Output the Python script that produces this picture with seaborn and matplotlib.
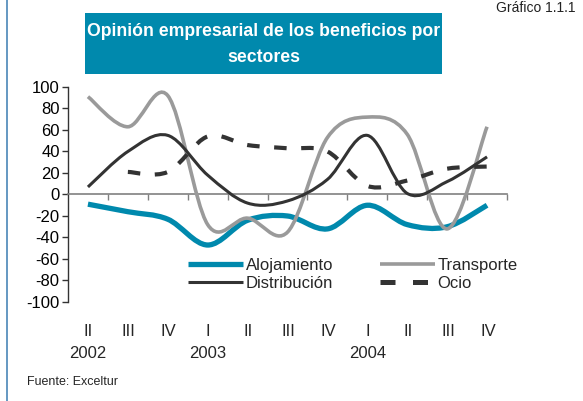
import numpy as np
import matplotlib
matplotlib.use("Agg")
import matplotlib.pyplot as plt
from matplotlib.path import Path
from matplotlib.patches import PathPatch, Rectangle
from matplotlib.lines import Line2D
import seaborn as sns

# quarters II-2002 .. IV-2004
quarters = ['II', 'III', 'IV', 'I', 'II', 'III', 'IV', 'I', 'II', 'III', 'IV']
years = {0: '2002', 3: '2003', 7: '2004'}

alojamiento = [-9, -16, -23, -47, -24, -20, -32, -10, -28, -30, -10]
transporte = [91, 63, 92, -28, -22, -35, 53, 72, 56, -32, 63]
distribucion = [7, 40, 55, 18, -8, -6, 14, 55, 1, 12, 35]
ocio = [np.nan, 21, 21, 54, 46, 43, 40, 8, 13, 24, 26]


def smooth_path(xs, ys):
    # excel style smoothed line: bezier through each point
    pts = [(x, y) for x, y in zip(xs, ys) if not np.isnan(y)]
    n = len(pts)
    verts = [pts[0]]
    codes = [Path.MOVETO]
    for i in range(n - 1):
        p0 = pts[i - 1] if i > 0 else pts[i]
        p1, p2 = pts[i], pts[i + 1]
        p3 = pts[i + 2] if i + 2 < n else pts[i + 1]
        c1 = (p1[0] + (p2[0] - p0[0]) / 6, p1[1] + (p2[1] - p0[1]) / 6)
        c2 = (p2[0] - (p3[0] - p1[0]) / 6, p2[1] - (p3[1] - p1[1]) / 6)
        verts += [c1, c2, p2]
        codes += [Path.CURVE4] * 3
    return Path(verts, codes)


sns.set_theme(style="white")
plt.rcParams['font.family'] = ['Liberation Sans', 'DejaVu Sans']
plt.rcParams['axes.unicode_minus'] = False

fig = plt.figure(figsize=(5.83, 4.01), dpi=100)
ax = fig.add_axes([68 / 583, 1 - 302 / 401, 439 / 583, 215 / 401])

x = np.arange(len(quarters))
series = [
    ('Alojamiento', alojamiento, '#0089ad', 3.8, '-'),
    ('Transporte', transporte, '#9a9a9a', 2.6, '-'),
    ('Distribución', distribucion, '#333333', 2.2, '-'),
    ('Ocio', ocio, '#333333', 3.0, (0, (3, 3.5))),
]
handles = {}
for name, vals, col, lw, ls in series:
    patch = PathPatch(smooth_path(x, np.array(vals, dtype=float)), fill=False,
                      edgecolor=col, lw=lw, linestyle=ls, capstyle='butt',
                      zorder=3)
    ax.add_patch(patch)
    handles[name] = Line2D([], [], color=col, lw=lw + 0.6 if name == 'Ocio' else lw,
                           linestyle=ls, solid_capstyle='butt',
                           dash_capstyle='butt', label=name)

ax.set_xlim(-0.5, 10.5)
ax.set_ylim(-100, 100)
ax.set_yticks(range(-100, 101, 20))
ax.set_xticks(np.arange(0.5, 11, 1))
ax.set_xticklabels([])
ax.tick_params(axis='y', direction='out', length=4, width=1, colors='#333333',
               labelsize=12, labelcolor='black', pad=2, left=True)
ax.tick_params(axis='x', direction='out', length=4, width=1, colors='#808080',
               bottom=True)
for s in ['top', 'right']:
    ax.spines[s].set_visible(False)
ax.spines['left'].set_color('#333333')
ax.spines['left'].set_linewidth(1)
ax.spines['bottom'].set_position(('data', 0))
ax.spines['bottom'].set_color('#808080')
ax.spines['bottom'].set_linewidth(1.2)
ax.grid(False)
ax.set_facecolor('white')

# quarter and year labels under the plot
for i, q in enumerate(quarters):
    fig.text((68 + 40 * i + 20) / 583, 1 - 332 / 401, q, ha='center', va='center',
             fontsize=12)
for i, yr in years.items():
    fig.text((68 + 40 * i + 20) / 583, 1 - 354 / 401, yr, ha='center', va='center',
             fontsize=12)

# column-wise fill -> rows: Alojamiento/Transporte, Distribución/Ocio
order = ['Alojamiento', 'Distribución', 'Transporte', 'Ocio']
ax.legend(handles=[handles[k] for k in order], ncol=2, frameon=False, fontsize=12,
          loc='upper left', bbox_to_anchor=(188 / 583, 1 - 258 / 401),
          bbox_transform=fig.transFigure, borderaxespad=0, borderpad=0,
          handlelength=3.3, handletextpad=0.15, columnspacing=2.8,
          labelspacing=0.15)

# title box
fig.patches.append(Rectangle((85 / 583, 1 - 74 / 401), 357 / 583, 61 / 401,
                             transform=fig.transFigure, facecolor='#0089ad',
                             edgecolor='none'))
fig.text(263.5 / 583, 1 - 31 / 401, 'Opinión empresarial de los beneficios por',
         ha='center', va='center', color='white', fontsize=12.7, fontweight='bold')
fig.text(263.5 / 583, 1 - 57 / 401, 'sectores', ha='center', va='center',
         color='white', fontsize=12.7, fontweight='bold')

fig.text(576 / 583, 1 - 1 / 401, 'Gráfico 1.1.1', ha='right', va='top',
         fontsize=10, color='#222222')
fig.text(27 / 583, 1 - 382 / 401, 'Fuente: Exceltur', ha='left', va='center',
         fontsize=9)
fig.lines.append(Line2D([7 / 583, 7 / 583], [0, 1], transform=fig.transFigure,
                        color='#4a86b8', lw=1.2))

fig.savefig('out.png', dpi=100, facecolor='white')
